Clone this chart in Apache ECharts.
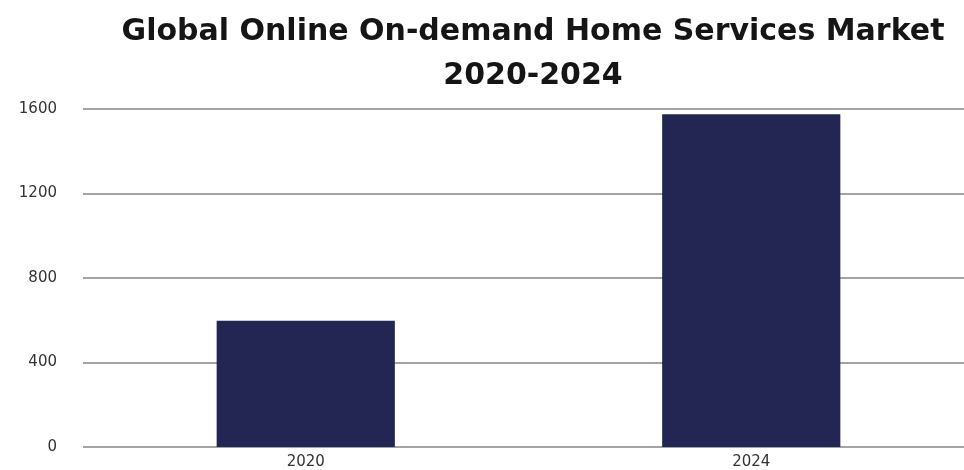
<!DOCTYPE html>
<html lang="en">
<head>
    <meta charset="UTF-8">
    <title>Global Online On-demand Home Services Market</title>
    <script src="https://cdn.jsdelivr.net/npm/echarts@6/dist/echarts.min.js"></script>
</head>
<body style="margin:0">
<div id="container" style="width:964px;height:470px"></div>

<script type="text/javascript">
    var years = ['2020', '2024'];
    var marketValues = [598, 1575];
    var yTicks = [0, 400, 800, 1200, 1600];

    var myChart = echarts.init(document.getElementById('container'), null, {renderer: 'canvas'});

    var option = {
        backgroundColor: '#ffffff',
        title: {
            text: 'Global Online On-demand Home Services Market\n2020-2024',
            left: 528,
            textAlign: 'center',
            top: 5,
            textStyle: {
                fontFamily: 'DejaVu Sans',
                fontWeight: 'bold',
                fontSize: 30,
                lineHeight: 44,
                color: '#151515'
            }
        },
        grid: {
            left: 83,
            width: 891,
            top: 109,
            bottom: 23,
            outerBoundsMode: 'none'
        },
        xAxis: {
            type: 'category',
            data: years,
            axisLine: {show: false},
            axisTick: {show: false},
            axisLabel: {
                fontFamily: 'DejaVu Sans',
                fontSize: 15,
                color: '#333333',
                margin: 8
            }
        },
        yAxis: {
            type: 'value',
            min: yTicks[0],
            max: yTicks[yTicks.length - 1],
            interval: 400,
            axisLabel: {
                fontFamily: 'DejaVu Sans',
                fontSize: 15,
                color: '#333333',
                margin: 26,
                formatter: function (v) { return String(v); }
            },
            splitLine: {
                lineStyle: {color: '#a3a3a3', width: 2}
            }
        },
        series: [
            {
                name: 'Market',
                type: 'bar',
                barWidth: '40%',
                data: marketValues,
                itemStyle: {color: '#232653'}
            }
        ]
    };

    myChart.setOption(option);
    window.addEventListener('resize', myChart.resize);
</script>
</body>
</html>
